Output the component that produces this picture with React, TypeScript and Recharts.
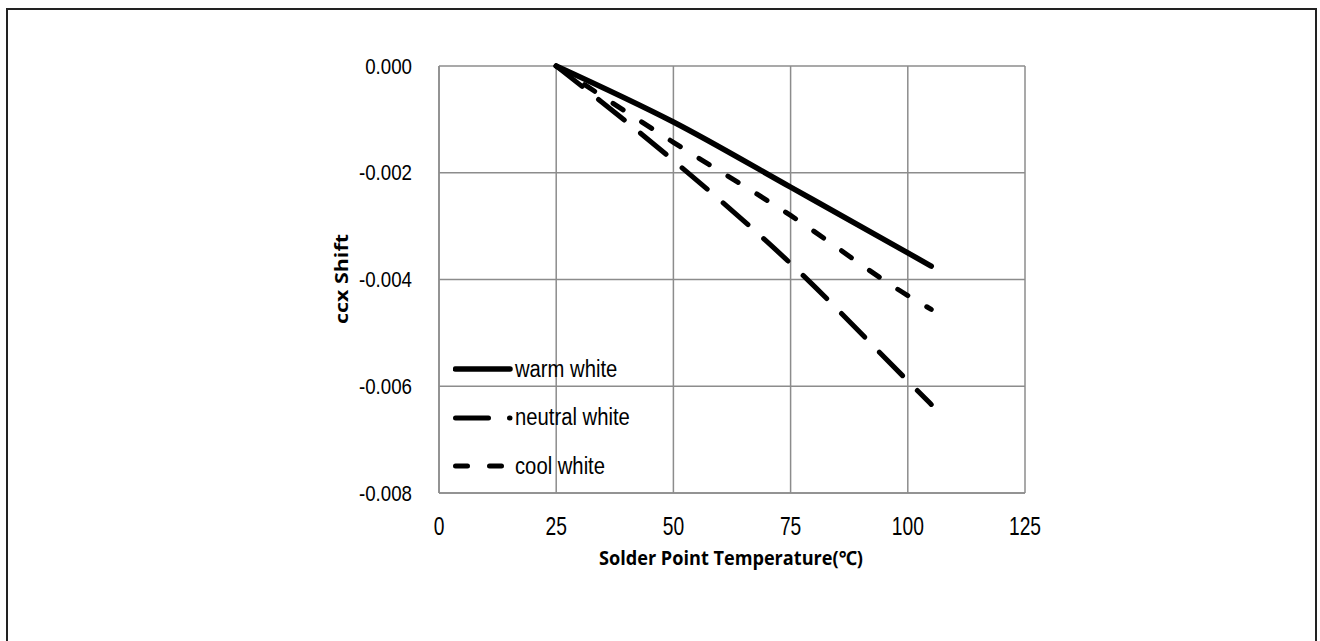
import { LineChart, Line, XAxis, YAxis, CartesianGrid, Legend } from 'recharts';

const temps = [25, 50, 75, 100, 105];
const warmWhite = [0, -0.00105, -0.00227, -0.0035, -0.00375];
const neutralWhite = [0, -0.00177, -0.0037, -0.0059, -0.00634];
const coolWhite = [0, -0.00143, -0.0028, -0.0043, -0.00456];

const xTicks = [0, 25, 50, 75, 100, 125];
const yTicks = [0, -0.002, -0.004, -0.006, -0.008];

const series = [
  { key: 'warm', name: 'warm white', width: 5.5, dash: undefined as string | undefined },
  { key: 'neutral', name: 'neutral white', width: 5, dash: '33 21' },
  { key: 'cool', name: 'cool white', width: 5, dash: '12 22' },
];

const data = temps.map((t, i) => ({
  t,
  warm: warmWhite[i],
  neutral: neutralWhite[i],
  cool: coolWhite[i],
}));

const sans = '"Liberation Sans", Arial, sans-serif';
const bold = '"Open Sans", "Noto Sans", sans-serif';
const grid = '#8c8c8c';

// the source image is a bit squeezed sideways, so the text is drawn narrower
function XTick({ x, y, payload }: any) {
  return (
    <g transform={`translate(${x},${y + 33})`}>
      <text transform="scale(0.74,1)" textAnchor="middle" dominantBaseline="central" fontSize={26} fontFamily={sans} fill="#000">
        {payload.value}
      </text>
    </g>
  );
}

function YTick({ x, y, payload }: any) {
  return (
    <g transform={`translate(${x},${y})`}>
      <text transform="scale(0.85,1)" textAnchor="end" dominantBaseline="central" fontSize={22} fontFamily={sans} fill="#000">
        {Number(payload.value).toFixed(3)}
      </text>
    </g>
  );
}

function XTitle() {
  return (
    <text x={723} y={547} textAnchor="middle" dominantBaseline="central" fontSize={19.5} fontWeight={700} fontFamily={bold} fill="#000" textLength={264} lengthAdjust="spacingAndGlyphs">
      Solder Point Temperature(℃)
    </text>
  );
}

function YTitle() {
  return (
    <text transform="translate(333,269) rotate(-90)" textAnchor="middle" dominantBaseline="central" fontSize={17} fontWeight={700} fontFamily={bold} fill="#000" textLength={90} lengthAdjust="spacingAndGlyphs">
      ccx Shift
    </text>
  );
}

function LegendBox() {
  return (
    <div style={{ fontFamily: sans, fontSize: 23, color: '#000' }}>
      {series.map(s => (
        <div key={s.key} style={{ display: 'flex', alignItems: 'center', height: 48.5 }}>
          <svg width={62} height={10}>
            <line
              x1={2.5}
              y1={5}
              x2={57}
              y2={5}
              stroke="#000"
              strokeWidth={s.width}
              strokeLinecap="round"
              strokeDasharray={s.dash}
            />
          </svg>
          <span style={{ display: 'inline-block', transform: 'scaleX(0.88)', transformOrigin: 'left center', whiteSpace: 'nowrap' }}>
            {s.name}
          </span>
        </div>
      ))}
    </div>
  );
}

export default function App() {
  return (
    <div
      style={{
        position: 'absolute',
        left: 6,
        top: 8,
        width: 1311,
        height: 633,
        borderTop: '2px solid #222',
        borderLeft: '2px solid #222',
        borderRight: '2px solid #222',
        boxSizing: 'border-box',
        background: '#fff',
      }}
    >
      <LineChart
        width={1306}
        height={600}
        data={data}
        margin={{ top: 56, right: 289, left: 0, bottom: 47 }}
      >
        <CartesianGrid stroke={grid} strokeWidth={1.5} />
        <XAxis
          dataKey="t"
          type="number"
          domain={[0, 125]}
          ticks={xTicks}
          tickLine={false}
          axisLine={{ stroke: grid, strokeWidth: 1.5 }}
          tickSize={0}
          tickMargin={0}
          height={70}
          tick={<XTick />}
        />
        <YAxis
          type="number"
          domain={[-0.008, 0]}
          ticks={yTicks}
          tickLine={false}
          axisLine={{ stroke: grid, strokeWidth: 1.5 }}
          tickSize={0}
          tickMargin={27}
          width={431}
          tick={<YTick />}
        />
        <Legend
          layout="horizontal"
          verticalAlign="middle"
          align="center"
          content={() => <LegendBox />}
          wrapperStyle={{ left: 445, top: 335, width: 220 }}
        />
        {series.map(s => (
          <Line
            key={s.key}
            dataKey={s.key}
            name={s.name}
            type="monotone"
            stroke="#000"
            strokeWidth={s.width}
            strokeLinecap="round"
            strokeDasharray={s.dash}
            dot={false}
            activeDot={false}
            isAnimationActive={false}
          />
        ))}
        <XTitle />
        <YTitle />
      </LineChart>
    </div>
  );
}
